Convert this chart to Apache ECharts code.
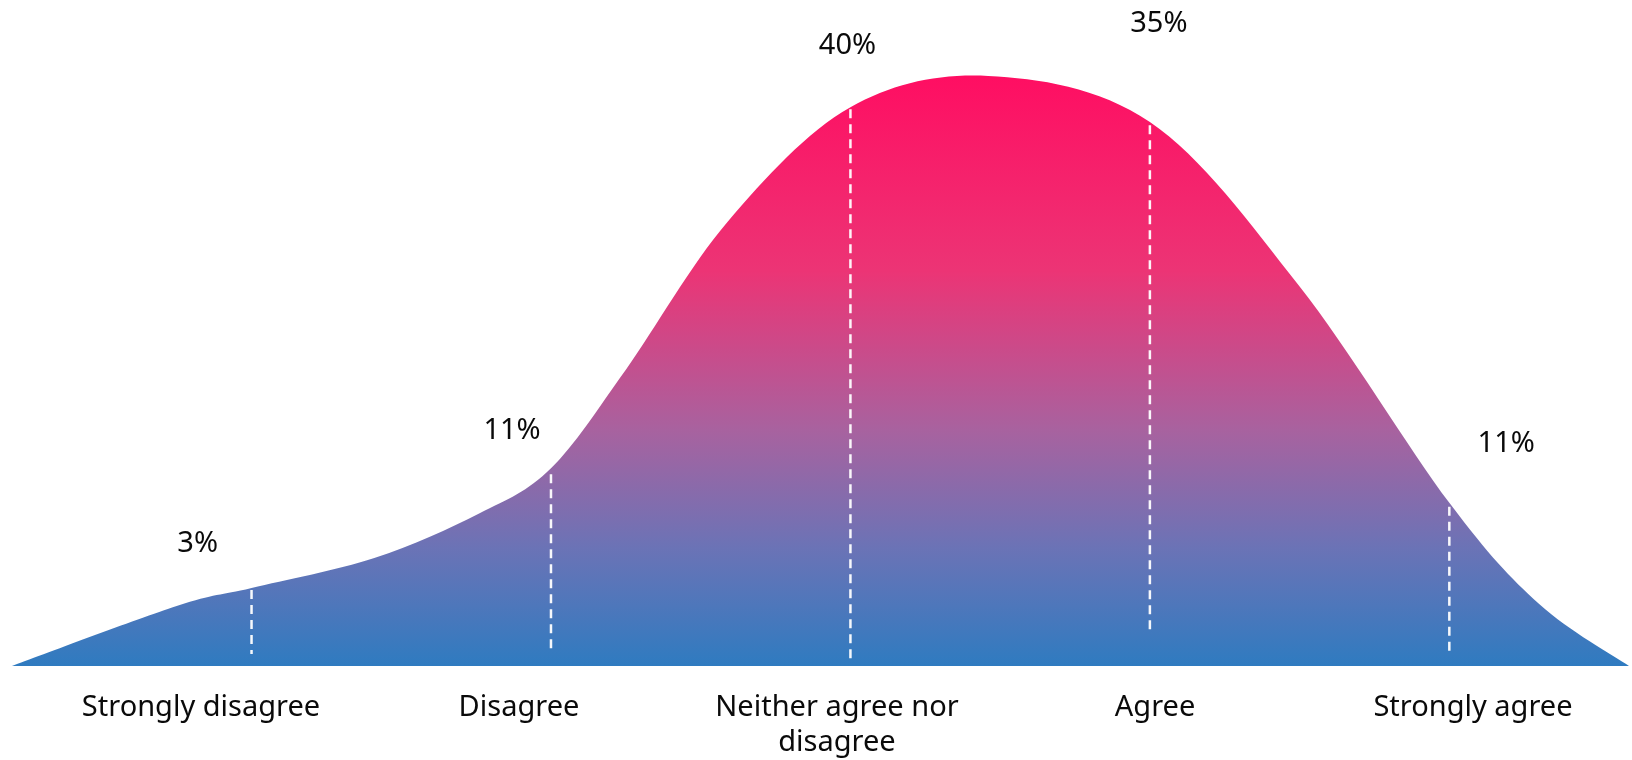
<!DOCTYPE html>
<html>
<head>
<meta charset="utf-8">
<title>Survey response distribution</title>
<script src="https://cdn.jsdelivr.net/npm/echarts@6/dist/echarts.min.js"></script>
<style>
  html, body { margin: 0; padding: 0; background: #ffffff; }
  #chart { width: 1632px; height: 760px; }
</style>
</head>
<body>
<div id="chart"></div>
<script>
// Response categories and the share of respondents in each
const categories = ['Strongly disagree', 'Disagree', 'Neither agree nor\ndisagree', 'Agree', 'Strongly agree'];
const shares = [3, 11, 40, 35, 11];

// Outline of the bell-shaped backdrop: position along the scale (category index units)
// and height of the curve at that position
const curveX = [-0.80, -0.25, 0.00, 0.41, 0.76, 1.00, 1.25, 1.59, 2.00, 2.46, 3.00, 3.50, 4.00, 4.30, 4.60];
const curveH = [0.0, 9.0, 11.7, 16.2, 22.9, 29.7, 44.5, 66.7, 83.9, 88.6, 81.7, 57.0, 24.5, 9.3, 0.0];

// Dashed guides under each category: top and bottom heights
const guideTop = [11.4, 28.8, 83.6, 81.2, 23.9];
const guideBottom = [1.8, 1.8, 0.6, 5.0, 1.8];

// Where each percentage label sits (position, height)
const labelX = [-0.18, 0.87, 1.99, 3.03, 4.19];
const labelH = [18.3, 35.4, 93.1, 96.5, 33.3];

const FONT = '"Noto Sans", "DejaVu Sans", sans-serif';

const labelData = shares.map((v, i) => ({ value: [labelX[i], labelH[i]], name: v + '%' }));
const guideData = categories.map((c, i) => [i, guideTop[i], guideBottom[i]]);

// Smooth outline through the profile points (Catmull-Rom turned into cubic Béziers),
// closed along the baseline
function renderCurve(params, api) {
  const pts = curveX.map((x, k) => api.coord([x, curveH[k]]));
  const baseY = api.coord([0, 0])[1];
  const n = pts.length;
  let d = 'M' + pts[0][0] + ',' + baseY + ' L' + pts[0][0] + ',' + pts[0][1];
  for (let k = 0; k < n - 1; k++) {
    const p0 = pts[Math.max(k - 1, 0)];
    const p1 = pts[k];
    const p2 = pts[k + 1];
    const p3 = pts[Math.min(k + 2, n - 1)];
    const c1x = p1[0] + (p2[0] - p0[0]) / 6;
    const c1y = p1[1] + (p2[1] - p0[1]) / 6;
    const c2x = p2[0] - (p3[0] - p1[0]) / 6;
    const c2y = p2[1] - (p3[1] - p1[1]) / 6;
    d += ' C' + c1x + ',' + c1y + ' ' + c2x + ',' + c2y + ' ' + p2[0] + ',' + p2[1];
  }
  d += ' L' + pts[n - 1][0] + ',' + baseY + ' Z';
  return {
    type: 'path',
    shape: { pathData: d },
    style: {
      fill: new echarts.graphic.LinearGradient(0, 0, 0, 1, [
        { offset: 0, color: '#ff0e62' },
        { offset: 0.33, color: '#ec3475' },
        { offset: 0.6, color: '#a8629f' },
        { offset: 0.8, color: '#6b73b6' },
        { offset: 1, color: '#2f7bc0' }
      ]),
      stroke: null
    }
  };
}

// White dashed guide from the curve down toward the baseline
function renderGuide(params, api) {
  const top = api.coord([api.value(0), api.value(1)]);
  const bottom = api.coord([api.value(0), api.value(2)]);
  return {
    type: 'line',
    shape: { x1: top[0], y1: top[1], x2: bottom[0], y2: bottom[1] },
    style: { stroke: '#ffffff', lineWidth: 2.5, lineDash: [9, 6], opacity: 0.95 }
  };
}

const chart = echarts.init(document.getElementById('chart'), null, { renderer: 'canvas' });

chart.setOption({
  backgroundColor: '#ffffff',
  animation: false,
  grid: [
    { left: 0, right: 0, top: 0, bottom: 94 },
    { left: 42, width: 1608, top: 0, bottom: 94 }
  ],
  xAxis: [
    { type: 'value', gridIndex: 0, min: -0.84, max: 4.61, show: false },
    {
      type: 'category', gridIndex: 1, data: categories, boundaryGap: true,
      axisLine: { show: false }, axisTick: { show: false }, splitLine: { show: false },
      axisLabel: {
        interval: 0, margin: 25, color: '#0a0a0a',
        fontFamily: FONT, fontSize: 29, lineHeight: 35
      }
    }
  ],
  yAxis: [
    { type: 'value', gridIndex: 0, min: 0, max: 100, show: false },
    { type: 'value', gridIndex: 1, min: 0, max: 100, show: false }
  ],
  series: [
    {
      type: 'custom',
      xAxisIndex: 0, yAxisIndex: 0,
      data: [0],
      renderItem: renderCurve,
      silent: true,
      clip: false,
      z: 1
    },
    {
      type: 'custom',
      xAxisIndex: 0, yAxisIndex: 0,
      data: guideData,
      renderItem: renderGuide,
      silent: true,
      z: 2
    },
    {
      type: 'scatter',
      xAxisIndex: 0, yAxisIndex: 0,
      data: labelData,
      symbolSize: 1,
      itemStyle: { color: 'rgba(0,0,0,0)', opacity: 1 },
      label: {
        show: true,
        position: 'inside',
        formatter: p => p.name,
        color: '#0a0a0a',
        fontFamily: FONT,
        fontSize: 29
      },
      z: 3
    }
  ]
});
</script>
</body>
</html>
